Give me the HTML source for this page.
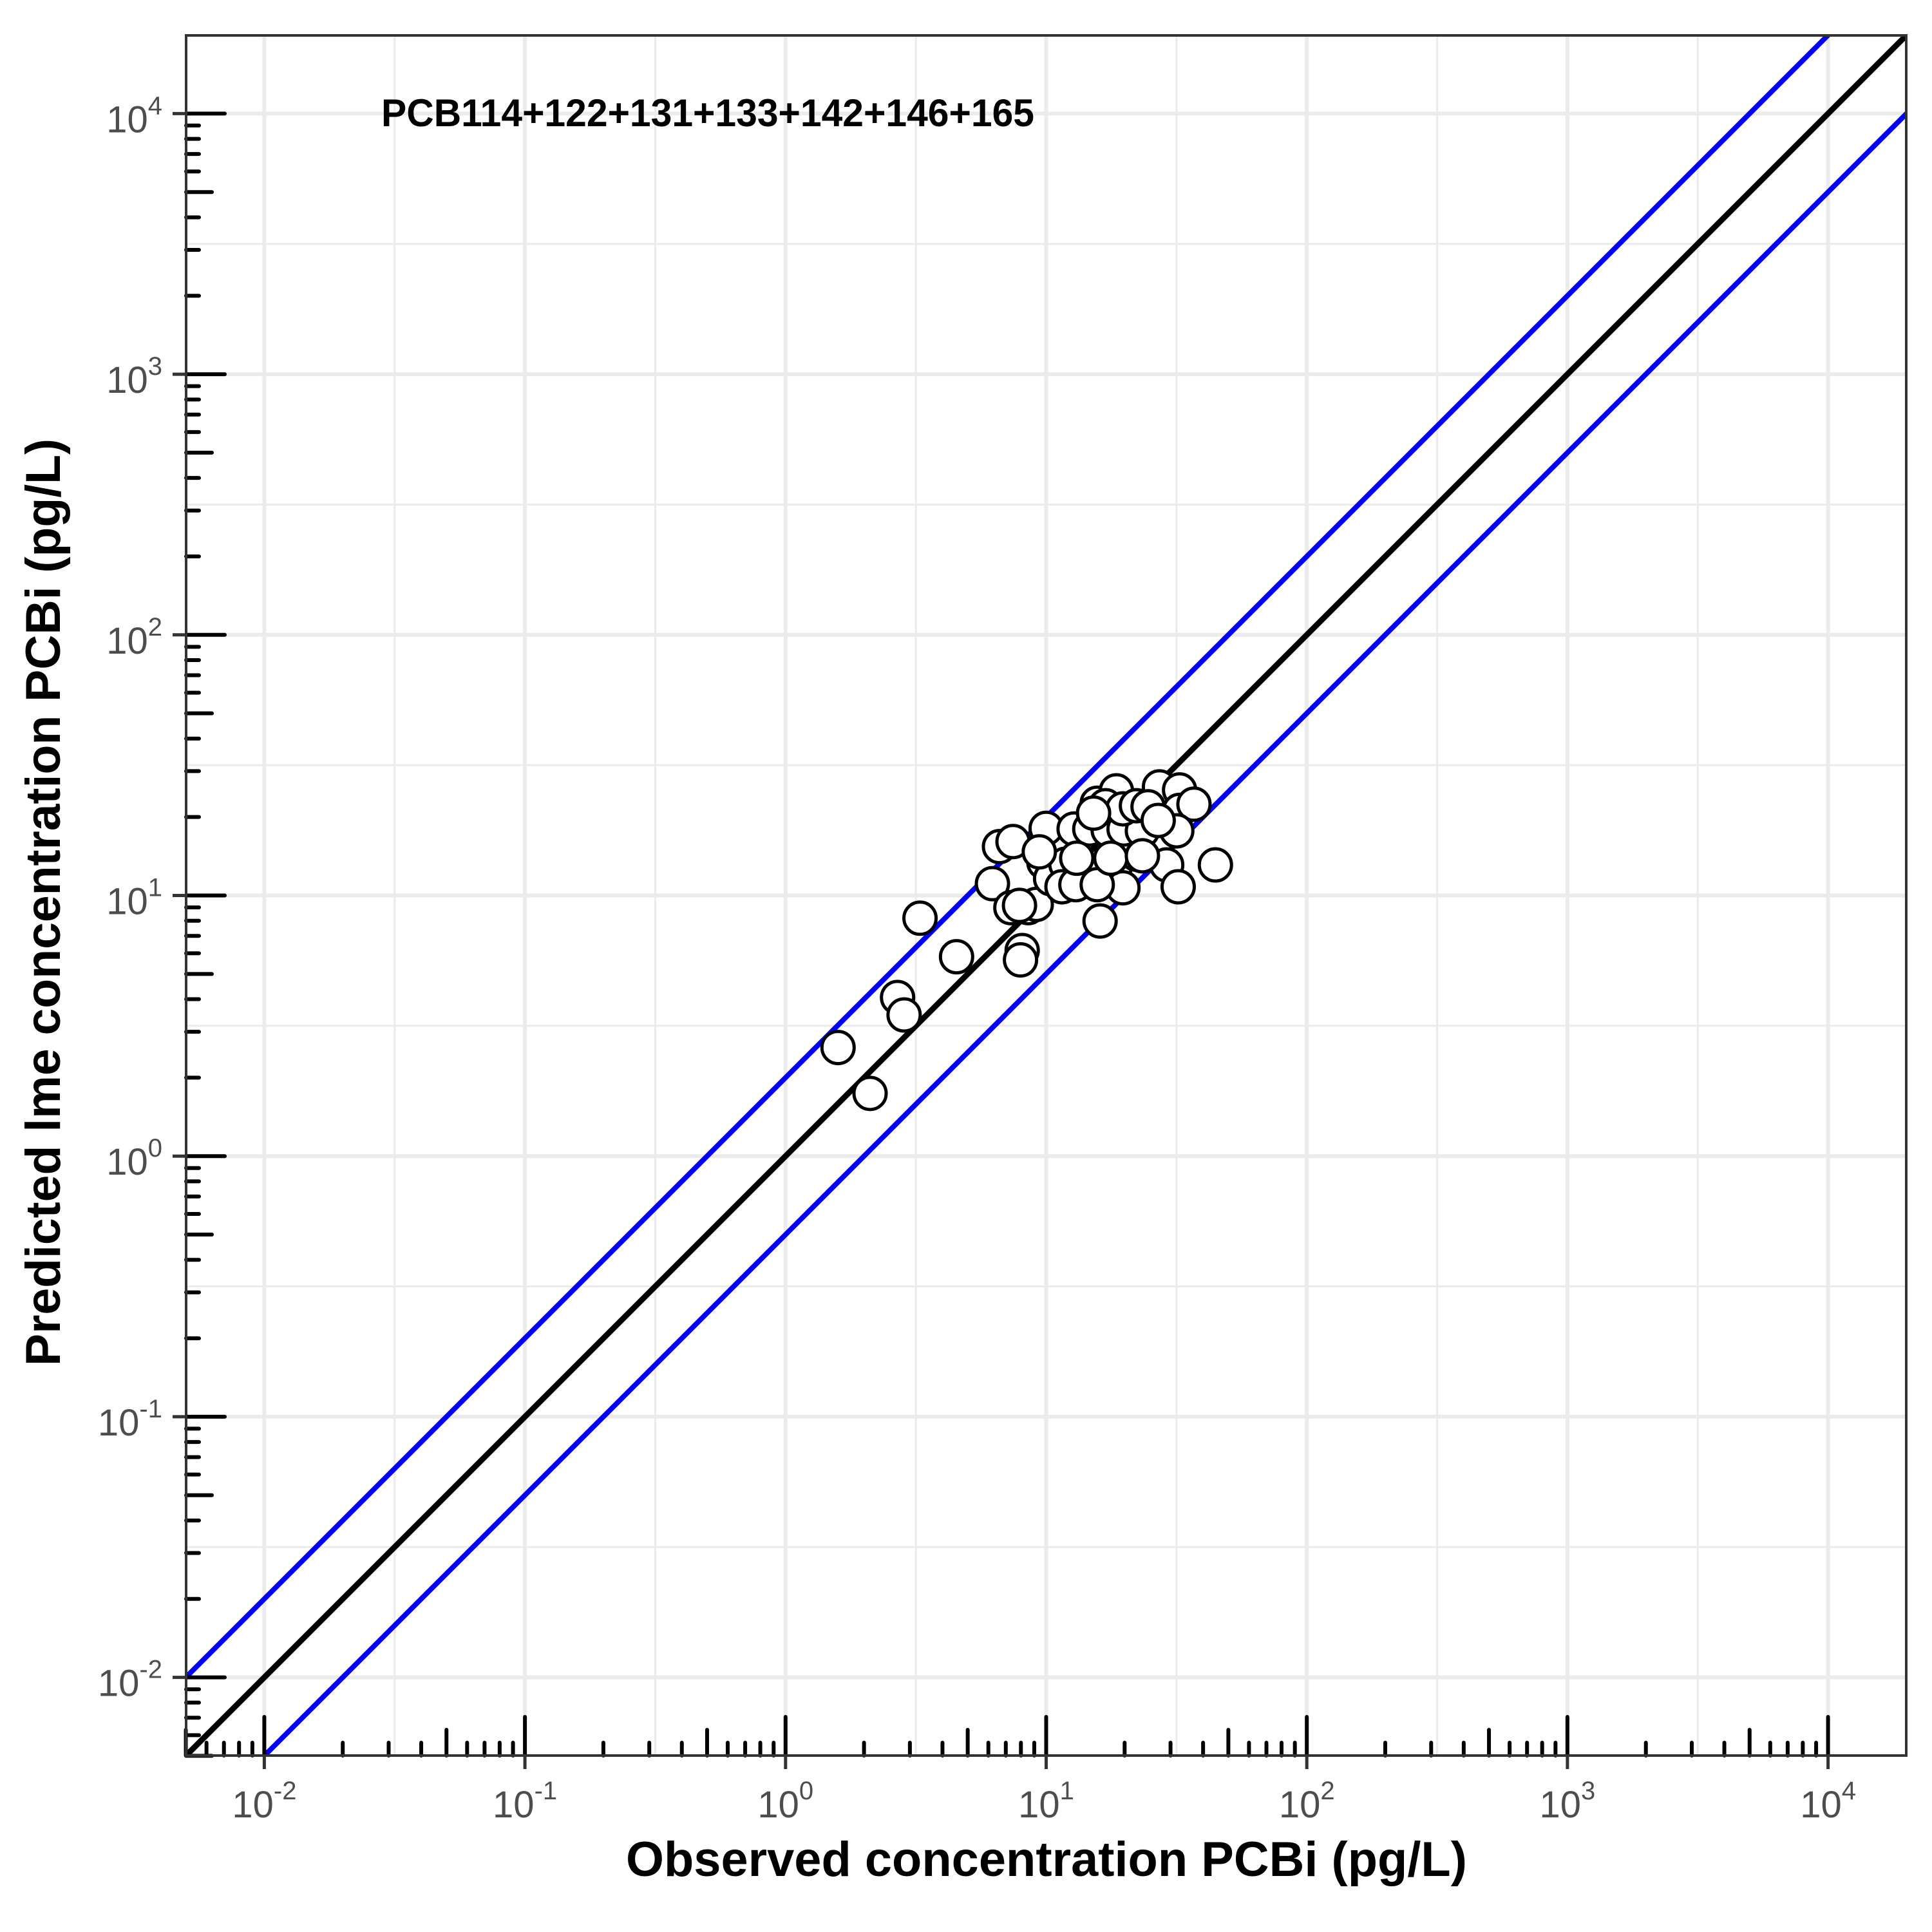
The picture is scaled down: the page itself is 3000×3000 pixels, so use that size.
<!DOCTYPE html>
<html><head><meta charset="utf-8">
<style>html,body{margin:0;padding:0;background:#fff;width:3000px;height:3000px;overflow:hidden}svg{display:block}</style>
</head><body>
<svg id="chart" xmlns="http://www.w3.org/2000/svg" width="3000" height="3000" viewBox="0 0 3000 3000">
<rect width="3000" height="3000" fill="#fff"/>
<g id="grid"></g>
<g id="refs"></g>
<g id="pts"></g>
<g id="logticks"></g>
<g id="axes"></g>
<text x="592" y="196" font-family="Liberation Sans, sans-serif" font-weight="bold" font-size="60" textLength="1014" lengthAdjust="spacingAndGlyphs">PCB114+122+131+133+142+146+165</text>
<text x="1625" y="2913" text-anchor="middle" font-family="Liberation Sans, sans-serif" font-weight="bold" font-size="76" textLength="1306" lengthAdjust="spacingAndGlyphs">Observed concentration PCBi (pg/L)</text>
<text transform="translate(93,1401) rotate(-90)" text-anchor="middle" font-family="Liberation Sans, sans-serif" font-weight="bold" font-size="76" textLength="1440" lengthAdjust="spacingAndGlyphs">Predicted lme concentration PCBi (pg/L)</text>
</svg>
<script>
const observed = [3.28,4.53,2.69,2.85,1.59,2.11,8.09,7.97,6.62,7.46,6.22,10.0,7.32,8.53,9.16,7.90,9.80,10.4,11.9,11.5,13.0,16.1,18.4,19.7,15.7,22.2,12.8,14.7,17.3,19.9,23.4,15.7,18.6,16.9,19.7,22.2,27.2,32.5,32.5,36.9,31.7,29.0,32.1,44.6,24.6,26.9,9.41,13.1,17.7,23.4,15.2];
const predicted = [8.18,5.82,4.06,3.48,2.61,1.74,6.15,5.66,15.4,16.1,11.1,18.1,8.98,8.98,9.24,9.16,13.4,11.6,13.2,10.8,11.0,7.98,12.9,10.7,11.0,14.4,18.0,18.0,17.8,18.0,17.7,22.6,25.2,22.1,21.5,22.1,26.1,25.4,21.2,22.4,17.7,13.1,10.8,13.1,21.9,19.4,14.7,13.9,13.9,14.2,20.7];
const decades = [-2,-1,0,1,2,3,4];
const refFactors = [1,2,0.5];
const domainLog = [-2.3,4.3];

const NS='http://www.w3.org/2000/svg';
const L=289,R=2960,T=55,B=2726;
function sx(v){return L+(Math.log10(v)-domainLog[0])/(domainLog[1]-domainLog[0])*(R-L);}
function sy(v){return B-(Math.log10(v)-domainLog[0])/(domainLog[1]-domainLog[0])*(B-T);}
function mk(tag,attrs,parent){const e=document.createElementNS(NS,tag);for(const k in attrs)e.setAttribute(k,attrs[k]);parent.appendChild(e);return e;}

const grid=document.getElementById('grid');
for(let d=-3;d<=4;d++){
  const v=Math.pow(10,d+0.5);
  const x=sx(v),y=sy(v);
  if(x>L&&x<R){const g=mk('line',{x1:x,x2:x,y1:T,y2:B,stroke:'#ebebeb','stroke-width':3},grid);

}
  if(y>T&&y<B){const g=mk('line',{x1:L,x2:R,y1:y,y2:y,stroke:'#ebebeb','stroke-width':3},grid);

}
}
decades.forEach(d=>{
  const v=Math.pow(10,d);
  const gx=mk('line',{x1:sx(v),x2:sx(v),y1:T,y2:B,stroke:'#ebebeb','stroke-width':6},grid);
  
  
  const gy=mk('line',{x1:L,x2:R,y1:sy(v),y2:sy(v),stroke:'#ebebeb','stroke-width':6},grid);
  
  
});

const defs=mk('defs',{},document.getElementById('chart'));
const cp=mk('clipPath',{id:'panel'},defs);
mk('rect',{x:L,y:T,width:R-L,height:B-T},cp);

const refs=document.getElementById('refs');
refs.setAttribute('clip-path','url(#panel)');
const lo=Math.pow(10,domainLog[0]-1),hi=Math.pow(10,domainLog[1]+1);
refFactors.forEach(f=>{
  const ln=mk('line',{x1:sx(lo),y1:sy(lo*f),x2:sx(hi),y2:sy(hi*f),stroke:f===1?'#000':'#0000ff','stroke-width':f===1?9:8},refs);
  
  
});

const pts=document.getElementById('pts');
observed.forEach((o,i)=>{
  const c=mk('circle',{cx:sx(o),cy:sy(predicted[i]),r:25,fill:'#fff',stroke:'#000','stroke-width':5},pts);
  
  
});

const lt=document.getElementById('logticks');
for(let d=-3;d<=4;d++){
  for(let m=1;m<=9;m++){
    const v=m*Math.pow(10,d);
    const len=m===1?60:(m===5?40:20);
    const x=sx(v),y=sy(v);
    if(x>=L-1&&x<=R){const t=mk('line',{x1:x,x2:x,y1:B,y2:B-len,stroke:'#000','stroke-width':6,'stroke-linecap':'round'},lt);

}
    if(y<=B+1&&y>=T){const t=mk('line',{x1:L,x2:L+len,y1:y,y2:y,stroke:'#000','stroke-width':6,'stroke-linecap':'round'},lt);

}
  }
}

const ax=document.getElementById('axes');
const border=mk('rect',{x:L,y:T,width:R-L,height:B-T,fill:'none',stroke:'#333','stroke-width':4},ax);


decades.forEach(d=>{
  const v=Math.pow(10,d);
  const x=sx(v),y=sy(v);
  const tx=mk('line',{x1:x,x2:x,y1:B,y2:B+21,stroke:'#333','stroke-width':5},ax);
  
  
  const ty=mk('line',{x1:L-21,x2:L,y1:y,y2:y,stroke:'#333','stroke-width':5},ax);
  
  
  const lx=mk('text',{x:x,y:2822,'text-anchor':'middle','font-family':'Liberation Sans, sans-serif','font-size':58,fill:'#4d4d4d'},ax);
  
  
  lx.innerHTML='10<tspan font-size="40" dy="-28">'+d+'</tspan>';
  const ly=mk('text',{x:252,y:y+29,'text-anchor':'end','font-family':'Liberation Sans, sans-serif','font-size':58,fill:'#4d4d4d'},ax);
  
  
  ly.innerHTML='10<tspan font-size="40" dy="-28">'+d+'</tspan>';
});
</script>
</body></html>
